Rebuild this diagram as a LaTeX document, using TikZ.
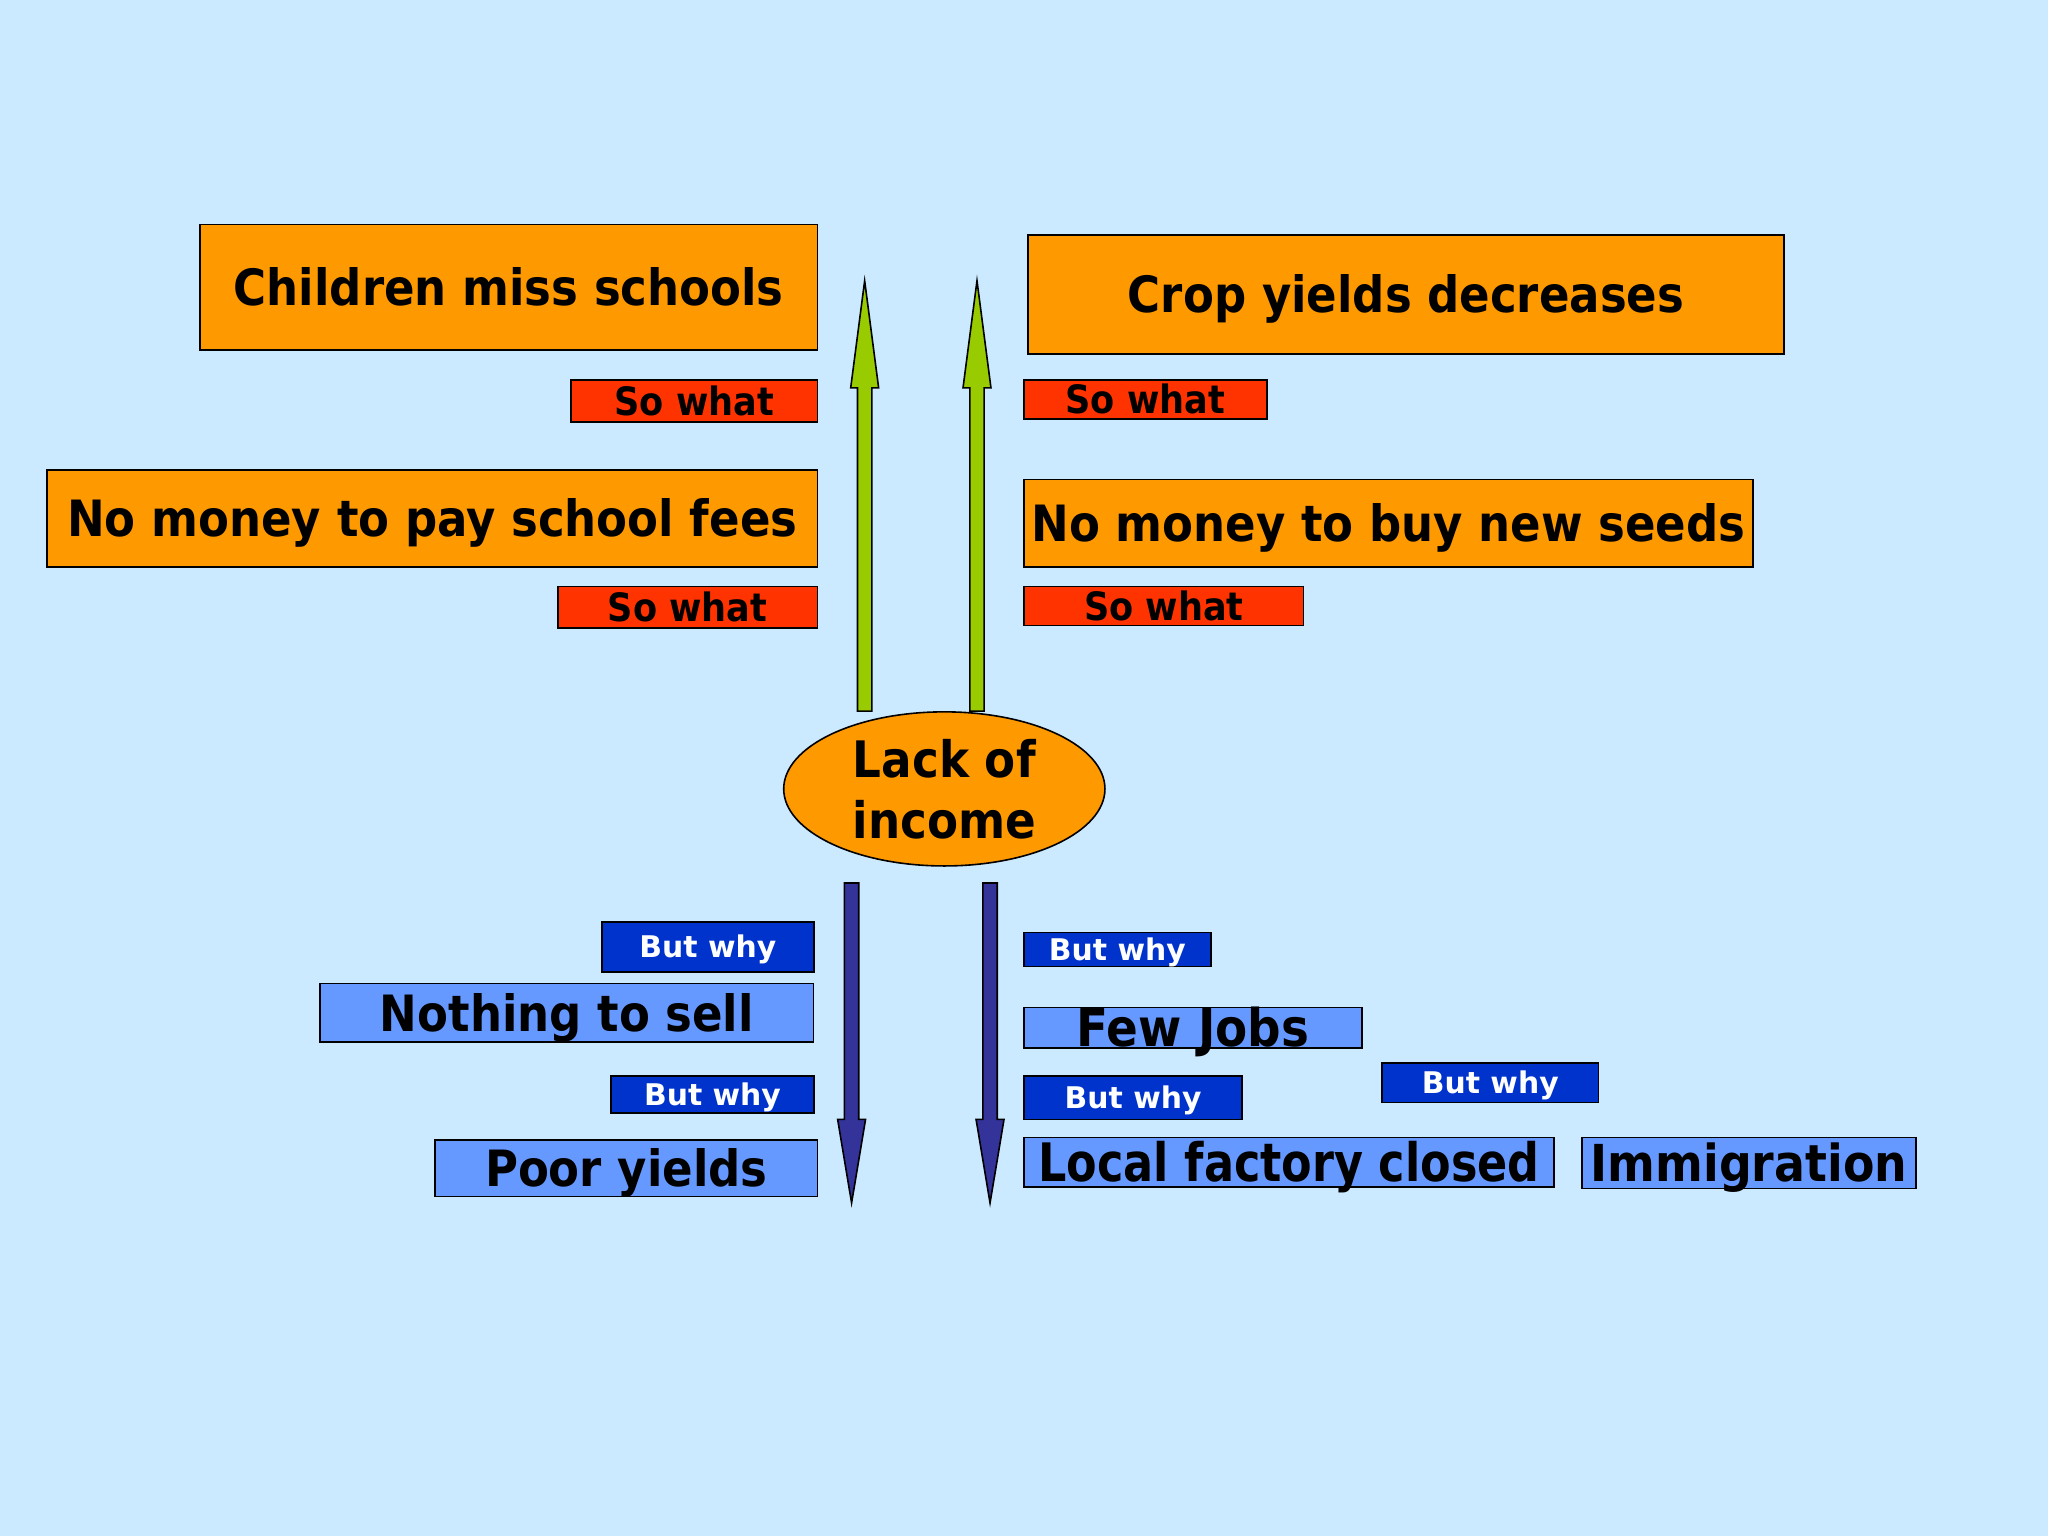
\documentclass[tikz,border=0pt]{standalone}
\usepackage{fontspec}
\setmainfont{DejaVu Sans}
\newfontfamily\slidefont{DejaVu Sans}[FakeStretch=0.9]
\newfontfamily\factoryfont{DejaVu Sans}[FakeStretch=0.84]
\usetikzlibrary{calc,shapes.geometric}

\definecolor{bgblue}{HTML}{CCEAFF}
\definecolor{boxorange}{HTML}{FF9900}
\definecolor{sored}{HTML}{FF3300}
\definecolor{arrowgreen}{HTML}{99CC00}
\definecolor{arrowblue}{HTML}{333399}
\definecolor{whyblue}{HTML}{0033CC}
\definecolor{causeblue}{HTML}{6699FF}

\tikzset{
  box/.style={draw=black,line width=0.7pt,inner sep=0pt,text depth=0pt},
  effect/.style={box,fill=boxorange,font=\slidefont\bfseries\fontsize{21.8pt}{25pt}\selectfont,text height=15.9pt},
  sowhat/.style={box,fill=sored,font=\slidefont\bfseries\fontsize{17pt}{20pt}\selectfont,text height=12.4pt},
  cause/.style={box,fill=causeblue,font=\slidefont\bfseries\fontsize{21.8pt}{25pt}\selectfont,text height=15.9pt},
  butwhy/.style={box,fill=whyblue,text=white,font=\bfseries\fontsize{13pt}{16pt}\selectfont,text height=9.5pt},
  upblock/.style={draw=black,line width=0.7pt,fill=arrowgreen,line join=miter},
  downblock/.style={draw=black,line width=0.7pt,fill=arrowblue,line join=miter},
}

% block arrow: style, tail, tip, signed head length
\newcommand{\blockarrow}[4]{%
  \draw[#1] ($(#2)+(-5.5,0)$) -- ($(#3)+(-5.5,#4)$) -- ($(#3)+(-10.7,#4)$) -- (#3)
    -- ($(#3)+(10.7,#4)$) -- ($(#3)+(5.5,#4)$) -- ($(#2)+(5.5,0)$) -- cycle;}

\begin{document}
\begin{tikzpicture}[x=0.02cm,y=-0.02cm]
\useasboundingbox (0,0) rectangle (1568,1176);
\fill[bgblue] (0,0) rectangle (1568,1176);

% centre
\node[ellipse,draw=black,line width=0.7pt,fill=boxorange,inner sep=0pt,
  minimum width=4.92cm,minimum height=2.36cm,align=center,
  font=\slidefont\bfseries\fontsize{21.9pt}{26.6pt}\selectfont] (lack) at (723,604) {Lack of\\income};

% so what side
\node[effect,minimum width=9.46cm,minimum height=1.92cm] (children) at (389.5,220) {Children miss schools};
\node[effect,minimum width=11.58cm,minimum height=1.82cm] (crop) at (1076.5,225.5) {Crop yields decreases};
\node[effect,minimum width=11.8cm,minimum height=1.48cm] (fees) at (331,397) {No money to pay school fees};
\node[effect,minimum width=11.16cm,minimum height=1.34cm] (seeds) at (1063,400.5) {No money to buy new seeds};

\node[sowhat,minimum width=3.78cm,minimum height=0.64cm] (sowhatA) at (531.5,307) {So what};
\node[sowhat,minimum width=3.72cm,minimum height=0.6cm] (sowhatB) at (877,306) {So what};
\node[sowhat,minimum width=3.98cm,minimum height=0.64cm] (sowhatC) at (526.5,465) {So what};
\node[sowhat,minimum width=4.28cm,minimum height=0.6cm] (sowhatD) at (891,464) {So what};

% but why side
\node[butwhy,minimum width=3.24cm,minimum height=0.76cm] (butwhyA) at (542,725) {But why};
\node[cause,minimum width=7.56cm,minimum height=0.9cm] (nothing) at (434,775.5) {Nothing to sell};
\node[butwhy,minimum width=3.1cm,minimum height=0.56cm] (butwhyB) at (545.5,838) {But why};
\node[cause,minimum width=5.86cm,minimum height=0.86cm] (poor) at (479.5,894.5) {Poor yields};

\node[butwhy,minimum width=2.86cm,minimum height=0.52cm] (butwhyC) at (855.5,727) {But why};
\node[cause,minimum width=5.18cm,minimum height=0.62cm,font=\slidefont\bfseries\fontsize{22.7pt}{26pt}\selectfont,text height=16.5pt] (jobs) at (913.5,787) {Few Jobs};
\node[butwhy,minimum width=3.34cm,minimum height=0.66cm] (butwhyD) at (867.5,840.5) {But why};
\node[butwhy,minimum width=3.32cm,minimum height=0.6cm] (butwhyE) at (1141,829) {But why};
\node[cause,minimum width=8.12cm,minimum height=0.76cm,font=\factoryfont\bfseries\fontsize{23.1pt}{26pt}\selectfont,text height=16.8pt] (factory) at (987,890) {Local factory closed};
\node[cause,minimum width=5.12cm,minimum height=0.78cm,font=\slidefont\bfseries\fontsize{22.2pt}{26pt}\selectfont,text height=16.2pt] (immigration) at (1339,890.5) {Immigration};

% arrows
\coordinate (upL) at (662,215);
\coordinate (upR) at (748,215);
\coordinate (upLtail) at (lack.north -| upL);
\coordinate (upRtail) at (lack.north -| upR);
\coordinate (downLtail) at (652,676);
\coordinate (downRtail) at (758,676);
\coordinate (downL) at (652,921);
\coordinate (downR) at (758,921);

\blockarrow{upblock}{upLtail}{upL}{82}
\blockarrow{upblock}{upRtail}{upR}{82}
\blockarrow{downblock}{downLtail}{downL}{-64}
\blockarrow{downblock}{downRtail}{downR}{-64}
\end{tikzpicture}
\end{document}
